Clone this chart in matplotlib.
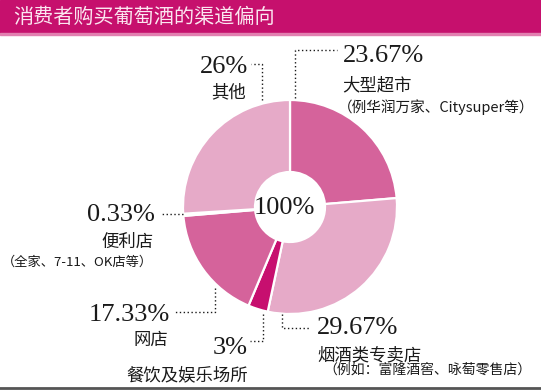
import matplotlib
matplotlib.use("Agg")
import matplotlib.pyplot as plt
from matplotlib.patches import Rectangle

# data, clockwise from 12 o'clock
channels = ["大型超市", "烟酒类专卖店", "餐饮及娱乐场所", "网店", "便利店", "其他"]
shares = [23.67, 29.67, 3, 17.33, 0.33, 26]
pct_text = ["23.67%", "29.67%", "3%", "17.33%", "0.33%", "26%"]
notes = ["（例华润万家、Citysuper等）", "（例如：富隆酒窖、咏萄零售店）", "", "", "（全家、7-11、OK店等）", ""]
colors = ["#d5639b", "#e6aac8", "#c70f6f", "#d5639b", "#f0cfe0", "#e6aac8"]
title = "消费者购买葡萄酒的渠道偏向"

W, H = 541, 391
cjk = ["Noto Sans CJK SC", "DejaVu Sans"]
num = "Liberation Serif"
ink = "#1a1a1a"

def Y(y):
    return H - y

fig = plt.figure(figsize=(W / 100, H / 100), dpi=100)
ax = fig.add_axes([0, 0, 1, 1])

cx, cy, r_out, r_in = 290, 207, 107, 35
ax.pie(shares, colors=colors, startangle=90, counterclock=False,
       center=(cx, Y(cy)), radius=r_out,
       wedgeprops=dict(width=r_out - r_in, edgecolor="white", linewidth=1.6))
ax.set_xlim(0, W)
ax.set_ylim(0, H)
ax.set_aspect("equal")
ax.axis("off")

ax.text(cx - 6, Y(cy + 1), "100%", family=num, fontsize=19, color=ink,
        ha="center", va="center")

# title bar
ax.add_patch(Rectangle((0, Y(33)), W, 33, color="#c6106d", zorder=0))
ax.add_patch(Rectangle((0, Y(35)), W, 2, color="#e27fb0", zorder=0))
ax.text(13, Y(17), title, family=cjk, fontsize=14.5, color="#fbe6f0",
        ha="left", va="center")

# bottom rule
ax.plot([0, W], [Y(388), Y(388)], color="#555555", lw=2)

dot = dict(color=ink, lw=1, linestyle=(0, (1, 1.8)))

def leader(pts):
    xs = [p[0] for p in pts]
    ys = [Y(p[1]) for p in pts]
    ax.plot(xs, ys, **dot)

# 大型超市
leader([(295, 98), (295, 50), (337, 50)])
ax.text(343, Y(56), pct_text[0], family=num, fontsize=19, color=ink, ha="left", va="center")
ax.text(342, Y(85), channels[0], family=cjk, fontsize=12.5, color=ink, ha="left", va="center")
ax.text(338, Y(107), notes[0], family=cjk, fontsize=10.5, color=ink, ha="left", va="center")

# 烟酒类专卖店
leader([(282, 314), (282, 328), (310, 328)])
ax.text(317, Y(328), pct_text[1], family=num, fontsize=19, color=ink, ha="left", va="center")
ax.text(317, Y(355), channels[1], family=cjk, fontsize=12.5, color=ink, ha="left", va="center")
ax.text(323, Y(370), notes[1], family=cjk, fontsize=10, color=ink, ha="left", va="center")

# 餐饮及娱乐场所
leader([(263, 314), (263, 341), (250, 341)])
ax.text(248, Y(348), pct_text[2], family=num, fontsize=19, color=ink, ha="right", va="center")
ax.text(248, Y(375), channels[2], family=cjk, fontsize=12.5, color=ink, ha="right", va="center")

# 网店
leader([(215, 288), (215, 312), (174, 312)])
ax.text(170, Y(315), pct_text[3], family=num, fontsize=19, color=ink, ha="right", va="center")
ax.text(168, Y(340), channels[3], family=cjk, fontsize=12.5, color=ink, ha="right", va="center")

# 便利店
leader([(183, 214), (160, 214)])
ax.text(155, Y(215), pct_text[4], family=num, fontsize=19, color=ink, ha="right", va="center")
ax.text(154, Y(242), channels[4], family=cjk, fontsize=12.5, color=ink, ha="right", va="center")
ax.text(153, Y(262), notes[4], family=cjk, fontsize=9.5, color=ink, ha="right", va="center")

# 其他
leader([(262, 100), (262, 64), (251, 64)])
ax.text(248, Y(67), pct_text[5], family=num, fontsize=19, color=ink, ha="right", va="center")
ax.text(246, Y(92), channels[5], family=cjk, fontsize=12.5, color=ink, ha="right", va="center")

fig.savefig("out.png", dpi=100)
